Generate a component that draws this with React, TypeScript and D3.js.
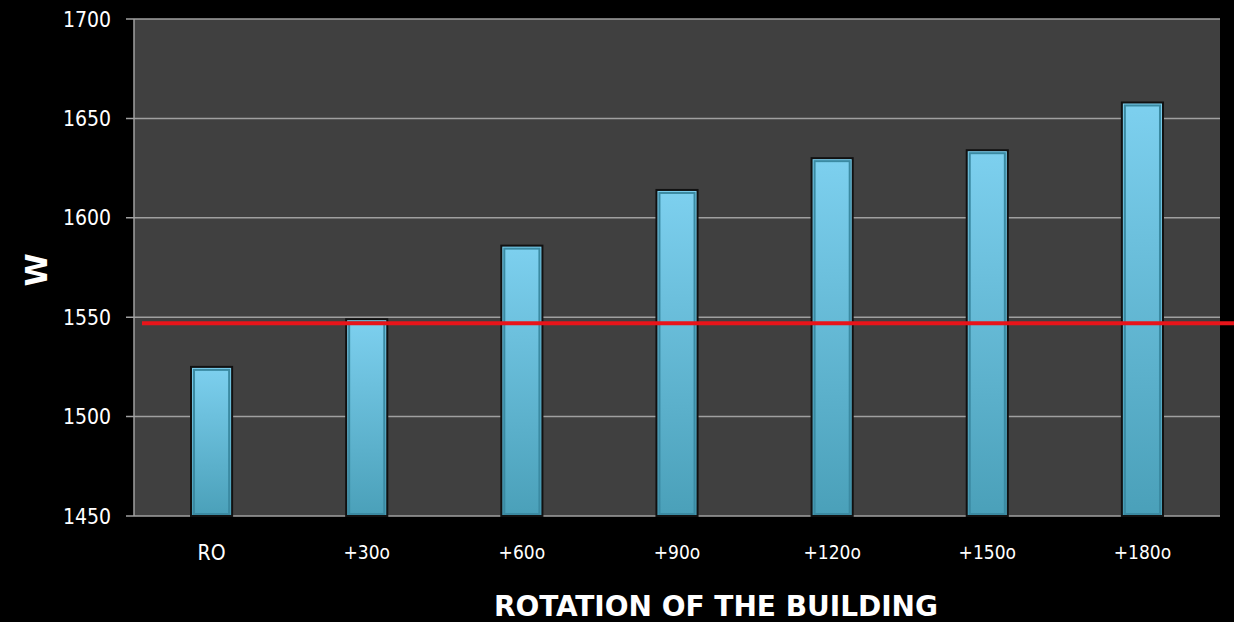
import React from "react";
import * as d3 from "d3";

const categories = ["RO", "+30o", "+60o", "+90o", "+120o", "+150o", "+180o"];
const powerValues = [1525, 1549, 1586, 1614, 1630, 1634, 1658];
const referenceValue = 1547;
const yTicks = [1450, 1500, 1550, 1600, 1650, 1700];

const W = 1234;
const H = 622;
const left = 134;
const right = 1220;
const top = 19;
const bottom = 516;
const FONT = "'DejaVu Sans', Verdana, sans-serif";

export default function App() {
  const x = d3.scaleBand<string>().domain(categories).range([left, right]).paddingInner(0);
  const y = d3.scaleLinear().domain([1450, 1700]).range([bottom, top]);
  const barW = x.bandwidth() * 0.265;

  return (
    <svg width={W} height={H} style={{ position: "absolute", left: 0, top: 0, background: "#000" }}>
      <defs>
        <linearGradient id="barFill" x1="0" y1="0" x2="0" y2="1">
          <stop offset="0" stopColor="#7dd0ef" />
          <stop offset="1" stopColor="#4aa0b9" />
        </linearGradient>
      </defs>
      <rect x={0} y={0} width={W} height={H} fill="#000" />
      <rect x={left} y={top} width={right - left} height={bottom - top} fill="#404040" />
      {yTicks.map((t) => (
        <g key={t}>
          <line x1={left - 8} x2={right} y1={y(t)} y2={y(t)} stroke="#a0a0a0" strokeWidth={1.5} />
          <text
            x={111}
            y={y(t)}
            dy="0.36em"
            textAnchor="end"
            fill="#fff"
            fontSize={21}
            fontStretch="condensed"
            fontFamily={FONT}
          >
            {t}
          </text>
        </g>
      ))}
      <line x1={left} x2={left} y1={top} y2={bottom} stroke="#a0a0a0" strokeWidth={1.5} />
      {categories.map((c, i) => {
        const cx = (x(c) as number) + x.bandwidth() / 2;
        const yt = y(powerValues[i]);
        const h = bottom - yt;
        return (
          <g key={c}>
            <rect x={cx - barW / 2} y={yt} width={barW} height={h} fill="url(#barFill)" stroke="#111" strokeWidth={2} />
            <rect
              x={cx - barW / 2 + 3}
              y={yt + 3}
              width={barW - 6}
              height={Math.max(0, h - 5)}
              fill="none"
              stroke="#3b8aa2"
              strokeWidth={2}
            />
            <text
              x={cx}
              y={552}
              dy="0.36em"
              textAnchor="middle"
              fill="#fff"
              fontSize={i === 0 ? 21 : 19}
              fontStretch="condensed"
              fontFamily={FONT}
            >
              {c}
            </text>
          </g>
        );
      })}
      <line
        x1={142}
        x2={W}
        y1={y(referenceValue)}
        y2={y(referenceValue)}
        stroke="#e8141a"
        strokeWidth={4}
      />
      <text
        transform={`translate(36,270) rotate(-90)`}
        textAnchor="middle"
        dy="0.36em"
        fill="#fff"
        fontSize={30}
        fontWeight="bold"
        fontFamily={FONT}
      >
        W
      </text>
      <text
        x={716}
        y={606}
        textAnchor="middle"
        dy="0.36em"
        fill="#fff"
        fontSize={28}
        fontWeight="bold"
        fontStretch="condensed"
        fontFamily={FONT}
        textLength={444}
        lengthAdjust="spacingAndGlyphs"
      >
        ROTATION OF THE BUILDING
      </text>
    </svg>
  );
}
